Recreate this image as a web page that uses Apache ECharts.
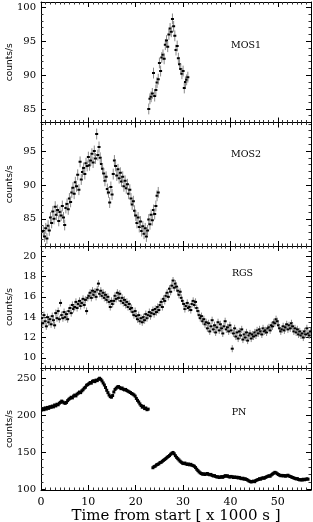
<!DOCTYPE html>
<html><head><meta charset="utf-8">
<script src="https://cdn.jsdelivr.net/npm/echarts@6/dist/echarts.min.js"></script>
<style>html,body{margin:0;padding:0;background:#fff}#c{width:313px;height:522px}</style>
</head><body><div id="c"></div>
<script>
// ---------- data (time in ks, rates in counts/s) ----------
const binWidth = 0.25;
const timeTicks = [0, 10, 20, 30, 40, 50];

const mos1Start = 22.75;
const mos1Rate = [85.0, 86.5, 86.8, 87.3, 90.3, 86.9, 87.8, 88.9, 89.4, 91.8,
  90.6, 92.6, 93.0, 92.4, 94.5, 95.1, 94.2, 96.0, 96.9, 96.4,
  98.3, 97.2, 95.8, 93.7, 94.3, 92.5, 91.6, 90.9, 90.2, 90.6,
  88.1, 89.0, 89.3, 89.7];
const mos1Err = 0.8;
const mos1Ticks = [85, 90, 95, 100];

const mos2Start = 0.5;
const mos2Rate = [83.2, 82.4, 83.6, 82.1, 84.0, 83.3, 85.2, 84.4, 86.1, 85.0,
  86.8, 85.6, 86.3, 84.7, 86.0, 85.5, 86.9, 85.2, 84.1, 86.6,
  87.2, 86.4, 88.0, 87.5, 88.9, 89.6, 88.7, 90.4, 89.8, 91.5,
  89.3, 93.4, 90.8, 91.9, 92.5, 91.6, 93.2, 92.8, 94.1, 92.9,
  93.6, 94.6, 93.3, 95.0, 93.9, 97.5, 94.4, 95.6, 94.0, 93.1,
  92.4, 91.7, 90.6, 91.2, 89.4, 88.9, 87.4, 89.7, 88.6, 91.6,
  93.6, 92.8, 91.4, 92.3, 91.0, 91.8, 90.5, 91.2, 89.8, 90.6,
  89.5, 90.1, 88.7, 89.3, 88.0, 87.1, 87.6, 86.2, 85.5, 84.4,
  85.2, 83.8, 84.6, 83.2, 83.9, 82.8, 83.6, 82.4, 83.3, 84.9,
  84.2, 85.6, 84.8, 86.3, 85.7, 86.9, 88.4, 88.9];
const mos2Err = 0.8;
const mos2Ticks = [85, 90, 95];

const rgsStart = 0.125;
const rgsRate = [
  13.9, 13.4, 14.2, 13.6, 13.1, 14.0, 13.5, 13.8, 13.3, 14.1, 13.7, 13.2, 14.4, 13.9, 14.6, 13.8, 15.4, 14.2, 13.9, 14.5,
  14.0, 14.3, 13.8, 14.6, 14.9, 14.4, 15.2, 14.8, 15.0, 15.5, 14.9, 15.3, 15.6, 15.1, 15.4, 15.8, 15.2, 15.7, 14.6, 15.9,
  16.1, 16.4, 15.9, 16.6, 16.2, 16.5, 16.0, 16.7, 17.3, 16.3, 16.6, 16.1, 16.4, 15.9, 16.2, 15.7, 16.0, 15.5, 15.0, 15.6,
  15.3, 15.6, 16.1, 15.8, 16.4, 15.9, 16.3, 15.6, 15.9, 15.4, 15.7, 15.2, 15.5, 15.0, 15.3, 14.8, 14.9, 14.5, 14.2, 14.6,
  14.1, 13.8, 14.2, 13.6, 13.9, 13.5, 14.0, 13.7, 14.3, 13.9, 14.2, 14.5, 14.1, 14.4, 14.7, 14.3, 14.8, 14.5, 15.0, 14.7,
  15.2, 15.5, 15.0, 15.8, 15.6, 16.1, 16.4, 16.0, 16.8, 16.5, 17.1, 17.6, 16.9, 17.3, 17.0, 16.6, 16.2, 16.5, 15.9, 15.6,
  15.3, 14.8, 15.1, 15.4, 14.9, 15.0, 14.7, 15.3, 15.6, 15.2, 15.5, 14.9, 14.6, 14.2, 13.9, 14.1, 13.6, 13.8, 13.3, 13.5,
  12.9, 13.4, 12.6, 13.1, 13.7, 12.8, 13.2, 12.5, 13.0, 13.5, 12.7, 13.3, 12.9, 12.4, 13.1, 13.6, 12.8, 13.0, 12.6, 13.2,
  12.7, 10.9, 12.4, 12.9, 12.1, 12.5, 11.9, 12.6, 12.2, 12.8, 11.8, 12.3, 12.0, 12.5, 11.7, 12.2, 12.4, 11.9, 12.3, 12.1,
  12.5, 12.2, 12.7, 12.4, 12.8, 12.6, 12.3, 12.9, 12.6, 12.7, 12.5, 12.9, 13.0, 12.7, 13.2, 13.1, 13.5, 13.4, 13.8, 13.6,
  13.2, 12.9, 12.6, 12.8, 13.1, 12.7, 13.0, 13.3, 12.8, 13.2, 12.9, 13.4, 13.1, 12.6, 12.9, 12.5, 12.8, 12.3, 12.6, 12.2,
  12.4, 12.0, 12.6, 12.3, 12.9, 12.4, 12.2, 12.6];
const rgsErr = 0.35;
const rgsTicks = [10, 12, 14, 16, 18, 20];

const pnStartA = 0.125;
const pnRateA = [
  206.8, 208.5, 207.2, 209.6, 208.1, 210.3, 209.0, 211.2, 210.4, 212.1, 211.0, 213.5, 212.3, 214.6, 213.8, 216.0, 217.2, 218.8, 217.5, 216.4,
  215.8, 217.0, 219.4, 221.2, 222.5, 224.0, 223.1, 225.6, 226.9, 225.8, 228.2, 229.5, 231.0, 230.2, 232.6, 234.1, 236.3, 237.5, 240.2, 241.0,
  242.3, 243.8, 243.0, 245.5, 246.2, 245.0, 247.1, 246.4, 248.3, 249.6, 248.1, 246.0, 243.2, 240.5, 237.1, 233.4, 230.2, 227.0, 224.8, 224.1,
  226.3, 231.0, 234.5, 236.2, 237.8, 238.4, 237.0, 235.6, 236.4, 234.8, 233.9, 234.5, 233.0, 232.1, 231.2, 230.4, 229.0, 228.3, 227.1, 225.5,
  222.4, 219.8, 217.6, 215.0, 212.9, 210.6, 211.8, 208.7, 209.5, 207.2, 208.0];
const pnStartB = 23.625;
const pnRateB = [
  129.0, 130.5, 131.2, 132.8, 133.5, 134.3, 135.9, 136.4, 137.8, 139.0, 140.2, 141.5, 143.0, 144.1, 145.4, 147.2, 148.5, 149.6, 147.8, 145.2,
  143.0, 141.2, 139.5, 137.8, 136.4, 135.2, 134.6, 135.3, 134.1, 133.5, 134.0, 132.9, 133.6, 132.4, 131.8, 131.0, 129.2, 127.0, 125.1, 123.4,
  122.0, 121.1, 120.3, 120.8, 119.9, 120.6, 121.2, 120.1, 119.5, 120.0, 118.7, 117.9, 118.4, 117.2, 116.5, 116.9, 115.8, 116.3, 117.0, 116.1,
  117.2, 118.3, 117.6, 118.1, 117.0, 116.4, 117.3, 116.8, 115.9, 116.6, 115.8, 116.3, 115.2, 115.9, 114.8, 114.2, 114.9, 113.6, 114.1, 113.2,
  112.4, 111.3, 110.6, 109.8, 110.4, 111.0, 110.2, 111.8, 112.6, 113.1, 114.2, 113.6, 114.9, 115.4, 114.8, 116.0, 116.7, 117.4, 118.2, 117.6,
  119.3, 120.5, 121.6, 122.8, 122.1, 120.9, 119.8, 119.0, 118.2, 118.7, 117.9, 118.5, 117.6, 118.3, 118.9, 117.8, 117.2, 116.5, 115.9, 115.2,
  114.6, 113.9, 114.3, 113.2, 112.6, 113.0, 112.4, 113.5, 112.8, 113.4, 114.0, 113.6];
const pnErr = 1.5;
const pnTicks = [100, 150, 200, 250];

// ---------- chart ----------
function toPoints(start, arr) { return arr.map((v, i) => [start + i * binWidth, v]); }

const panels = [
  { label: 'MOS1', min: 83, max: 100.8, ticks: mos1Ticks, split: 4, minor: 5, grid: { top: 2, height: 120.5 }, lx: 246, ly: 46 },
  { label: 'MOS2', min: 81, max: 99.2, ticks: mos2Ticks, split: 4, minor: 5, grid: { top: 122.5, height: 123.5 }, lx: 246, ly: 154.5 },
  { label: 'RGS', min: 9, max: 21, ticks: rgsTicks, split: 6, minor: 4, grid: { top: 246, height: 122 }, lx: 242.5, ly: 274 },
  { label: 'PN', min: 99, max: 263.4, ticks: pnTicks, split: 4, minor: 5, grid: { top: 368, height: 122 }, lx: 239, ly: 413 }
];

const serif = 'DejaVu Serif';
const grid = [], xAxis = [], yAxis = [], graphic = [];
panels.forEach((p, k) => {
  grid.push({ left: 41, right: 2, top: p.grid.top, height: p.grid.height, containLabel: false, outerBoundsMode: 'none' });
  const last = k === panels.length - 1;
  const xBase = {
    type: 'value', gridIndex: k, min: 0, max: 57, splitNumber: 5,
    axisLine: { onZero: false, lineStyle: { color: '#000', width: 1 } },
    axisTick: { inside: true, length: 5, lineStyle: { color: '#000' } },
    minorTick: { show: true, splitNumber: 10, length: 2.5, lineStyle: { color: '#333' } },
    splitLine: { show: false }, minorSplitLine: { show: false }
  };
  xAxis.push(Object.assign({}, xBase, {
    position: 'bottom',
    axisLabel: {
      show: last, margin: 7, color: '#000', fontFamily: serif, fontSize: 11,
      formatter: v => timeTicks.includes(v) ? String(v) : ''
    },
    name: last ? 'Time from start [ x 1000 s ]' : '',
    nameLocation: 'middle', nameGap: 19, nameMoveOverlap: false,
    nameTextStyle: { fontFamily: serif, fontSize: 15, color: '#000' }
  }));
  xAxis.push(Object.assign({}, xBase, { position: 'top', axisLabel: { show: false } }));
  const yBase = {
    type: 'value', gridIndex: k, min: p.min, max: p.max, splitNumber: p.split,
    axisLine: { onZero: false, lineStyle: { color: '#000', width: 1 } },
    axisTick: { inside: true, length: 5, lineStyle: { color: '#000' } },
    minorTick: { show: true, splitNumber: p.minor, length: 2.5, lineStyle: { color: '#333' } },
    splitLine: { show: false }, minorSplitLine: { show: false }
  };
  yAxis.push(Object.assign({}, yBase, {
    position: 'left',
    axisLabel: {
      margin: 5, color: '#000', fontFamily: serif, fontSize: 10,
      formatter: v => p.ticks.includes(v) ? String(v) : ''
    },
    name: 'counts/s', nameLocation: 'middle', nameGap: 27, nameMoveOverlap: false,
    nameTextStyle: { fontFamily: 'DejaVu Sans', fontSize: 9, color: '#000' }
  }));
  yAxis.push(Object.assign({}, yBase, { position: 'right', axisLabel: { show: false } }));
  graphic.push({
    type: 'text', x: p.lx, y: p.ly,
    style: { text: p.label, fill: '#000', font: '9.5px "DejaVu Serif"', textAlign: 'center', textVerticalAlign: 'middle' }
  });
});

function errRender(err, barColor, dotW, dotH) {
  return function (params, api) {
    const t = api.value(0), v = api.value(1);
    const c = api.coord([t, v]);
    const lo = api.coord([t, v - err]);
    const hi = api.coord([t, v + err]);
    return {
      type: 'group', children: [
        { type: 'line', shape: { x1: c[0], y1: lo[1], x2: c[0], y2: hi[1] }, style: { stroke: barColor, lineWidth: 1 } },
        { type: 'rect', shape: { x: c[0] - dotW / 2, y: c[1] - dotH / 2, width: dotW, height: dotH }, style: { fill: '#000' } }
      ]
    };
  };
}

function errSeries(k, data, err, barColor, dotW, dotH) {
  return {
    type: 'custom', xAxisIndex: 2 * k, yAxisIndex: 2 * k, clip: true,
    encode: { x: 0, y: 1 }, data: data, silent: true, animation: false,
    renderItem: errRender(err, barColor, dotW, dotH)
  };
}

const series = [
  errSeries(0, toPoints(mos1Start, mos1Rate), mos1Err, '#8a8a8a', 3, 2),
  errSeries(1, toPoints(mos2Start, mos2Rate), mos2Err, '#8a8a8a', 3, 2),
  errSeries(2, toPoints(rgsStart, rgsRate), rgsErr, '#8a8a8a', 3, 2),
  errSeries(3, toPoints(pnStartA, pnRateA), pnErr, '#444', 3, 3),
  errSeries(3, toPoints(pnStartB, pnRateB), pnErr, '#444', 3, 3)
];

const chart = echarts.init(document.getElementById('c'), null, { renderer: 'canvas' });
chart.setOption({ animation: false, backgroundColor: '#fff', grid, xAxis, yAxis, series, graphic });
</script>
</body></html>
